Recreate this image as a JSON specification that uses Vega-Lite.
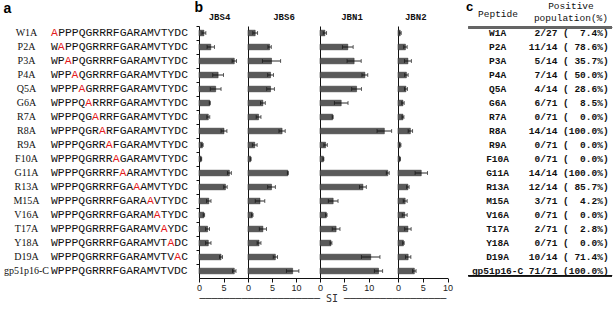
{
  "$schema": "https://vega.github.io/schema/vega-lite/v6.json",
  "padding": {"left": 3, "top": 0, "right": 0, "bottom": 0},
  "bounds": "flush",
  "spacing": 0,
  "config": {
    "view": {"stroke": null},
    "font": "Liberation Sans",
    "axis": {"grid": false},
    "title": {"font": "Liberation Mono", "fontSize": 9, "fontWeight": "bold", "baseline": "alphabetic", "offset": 4, "frame": "group", "color": "#111"}
  },
  "datasets": {
    "pep": [
      {"p": "W1A", "pre": "", "mut": "A", "pos": 0, "post": "PPPQGRRRFGARAMVTYDC", "cnt": "2/27", "pct": 7.4},
      {"p": "P2A", "pre": "W", "mut": "A", "pos": 1, "post": "PPQGRRRFGARAMVTYDC", "cnt": "11/14", "pct": 78.6},
      {"p": "P3A", "pre": "WP", "mut": "A", "pos": 2, "post": "PQGRRRFGARAMVTYDC", "cnt": "5/14", "pct": 35.7},
      {"p": "P4A", "pre": "WPP", "mut": "A", "pos": 3, "post": "QGRRRFGARAMVTYDC", "cnt": "7/14", "pct": 50.0},
      {"p": "Q5A", "pre": "WPPP", "mut": "A", "pos": 4, "post": "GRRRFGARAMVTYDC", "cnt": "4/14", "pct": 28.6},
      {"p": "G6A", "pre": "WPPPQ", "mut": "A", "pos": 5, "post": "RRRFGARAMVTYDC", "cnt": "6/71", "pct": 8.5},
      {"p": "R7A", "pre": "WPPPQG", "mut": "A", "pos": 6, "post": "RRFGARAMVTYDC", "cnt": "0/71", "pct": 0.0},
      {"p": "R8A", "pre": "WPPPQGR", "mut": "A", "pos": 7, "post": "RFGARAMVTYDC", "cnt": "14/14", "pct": 100.0},
      {"p": "R9A", "pre": "WPPPQGRR", "mut": "A", "pos": 8, "post": "FGARAMVTYDC", "cnt": "0/71", "pct": 0.0},
      {"p": "F10A", "pre": "WPPPQGRRR", "mut": "A", "pos": 9, "post": "GARAMVTYDC", "cnt": "0/71", "pct": 0.0},
      {"p": "G11A", "pre": "WPPPQGRRRF", "mut": "A", "pos": 10, "post": "ARAMVTYDC", "cnt": "14/14", "pct": 100.0},
      {"p": "R13A", "pre": "WPPPQGRRRFGA", "mut": "A", "pos": 12, "post": "AMVTYDC", "cnt": "12/14", "pct": 85.7},
      {"p": "M15A", "pre": "WPPPQGRRRFGARA", "mut": "A", "pos": 14, "post": "VTYDC", "cnt": "3/71", "pct": 4.2},
      {"p": "V16A", "pre": "WPPPQGRRRFGARAM", "mut": "A", "pos": 15, "post": "TYDC", "cnt": "0/71", "pct": 0.0},
      {"p": "T17A", "pre": "WPPPQGRRRFGARAMV", "mut": "A", "pos": 16, "post": "YDC", "cnt": "2/71", "pct": 2.8},
      {"p": "Y18A", "pre": "WPPPQGRRRFGARAMVT", "mut": "A", "pos": 17, "post": "DC", "cnt": "0/71", "pct": 0.0},
      {"p": "D19A", "pre": "WPPPQGRRRFGARAMVTV", "mut": "A", "pos": 18, "post": "C", "cnt": "10/14", "pct": 71.4},
      {"p": "gp51p16-C", "pre": "WPPPQGRRRFGARAMVTVDC", "mut": "", "pos": 20, "post": "", "cnt": "71/71", "pct": 100.0}
    ],
    "si": [
      {"c": "JBS4", "p": "W1A", "si": 1.0, "err": 0.4},
      {"c": "JBS4", "p": "P2A", "si": 2.4, "err": 0.75},
      {"c": "JBS4", "p": "P3A", "si": 7.2, "err": 0.45},
      {"c": "JBS4", "p": "P4A", "si": 3.9, "err": 1.1},
      {"c": "JBS4", "p": "Q5A", "si": 3.4, "err": 1.1},
      {"c": "JBS4", "p": "G6A", "si": 2.2, "err": 0.1},
      {"c": "JBS4", "p": "R7A", "si": 1.9, "err": 0.3},
      {"c": "JBS4", "p": "R8A", "si": 5.1, "err": 0.6},
      {"c": "JBS4", "p": "R9A", "si": 0.7, "err": 0.15},
      {"c": "JBS4", "p": "F10A", "si": 0.45, "err": 0.1},
      {"c": "JBS4", "p": "G11A", "si": 6.2, "err": 0.4},
      {"c": "JBS4", "p": "R13A", "si": 5.4, "err": 0.35},
      {"c": "JBS4", "p": "M15A", "si": 2.0, "err": 0.45},
      {"c": "JBS4", "p": "V16A", "si": 1.0, "err": 0.15},
      {"c": "JBS4", "p": "T17A", "si": 1.75, "err": 0.4},
      {"c": "JBS4", "p": "Y18A", "si": 1.9, "err": 0.55},
      {"c": "JBS4", "p": "D19A", "si": 4.5, "err": 0.3},
      {"c": "JBS4", "p": "gp51p16-C", "si": 7.2, "err": 0.35},
      {"c": "JBS6", "p": "W1A", "si": 1.5, "err": 0.5},
      {"c": "JBS6", "p": "P2A", "si": 4.5, "err": 0.35},
      {"c": "JBS6", "p": "P3A", "si": 4.9, "err": 1.9},
      {"c": "JBS6", "p": "P4A", "si": 4.7, "err": 0.6},
      {"c": "JBS6", "p": "Q5A", "si": 4.7, "err": 0.8},
      {"c": "JBS6", "p": "G6A", "si": 3.1, "err": 0.5},
      {"c": "JBS6", "p": "R7A", "si": 2.2, "err": 0.5},
      {"c": "JBS6", "p": "R8A", "si": 7.1, "err": 0.65},
      {"c": "JBS6", "p": "R9A", "si": 1.4, "err": 0.5},
      {"c": "JBS6", "p": "F10A", "si": 0.55, "err": 0.1},
      {"c": "JBS6", "p": "G11A", "si": 8.3, "err": 0.1},
      {"c": "JBS6", "p": "R13A", "si": 4.9, "err": 0.8},
      {"c": "JBS6", "p": "M15A", "si": 2.5, "err": 1.0},
      {"c": "JBS6", "p": "V16A", "si": 0.9, "err": 0.15},
      {"c": "JBS6", "p": "T17A", "si": 3.1, "err": 0.75},
      {"c": "JBS6", "p": "Y18A", "si": 2.3, "err": 0.4},
      {"c": "JBS6", "p": "D19A", "si": 5.7, "err": 0.45},
      {"c": "JBS6", "p": "gp51p16-C", "si": 9.3, "err": 1.3},
      {"c": "JBN1", "p": "W1A", "si": 1.0, "err": 0.35},
      {"c": "JBN1", "p": "P2A", "si": 5.7, "err": 1.1},
      {"c": "JBN1", "p": "P3A", "si": 7.0, "err": 1.45},
      {"c": "JBN1", "p": "P4A", "si": 9.2, "err": 0.6},
      {"c": "JBN1", "p": "Q5A", "si": 7.5, "err": 1.0},
      {"c": "JBN1", "p": "G6A", "si": 4.35, "err": 1.4},
      {"c": "JBN1", "p": "R7A", "si": 2.6, "err": 0.1},
      {"c": "JBN1", "p": "R8A", "si": 13.2, "err": 1.5},
      {"c": "JBN1", "p": "R9A", "si": 1.15, "err": 0.35},
      {"c": "JBN1", "p": "F10A", "si": 0.7, "err": 0.1},
      {"c": "JBN1", "p": "G11A", "si": 13.9, "err": 0.3},
      {"c": "JBN1", "p": "R13A", "si": 8.8, "err": 0.7},
      {"c": "JBN1", "p": "M15A", "si": 2.7, "err": 1.0},
      {"c": "JBN1", "p": "V16A", "si": 1.3, "err": 0.15},
      {"c": "JBN1", "p": "T17A", "si": 3.3, "err": 0.8},
      {"c": "JBN1", "p": "Y18A", "si": 2.25, "err": 0.2},
      {"c": "JBN1", "p": "D19A", "si": 10.4, "err": 1.9},
      {"c": "JBN1", "p": "gp51p16-C", "si": 12.0, "err": 0.85},
      {"c": "JBN2", "p": "W1A", "si": 0.45, "err": 0.2},
      {"c": "JBN2", "p": "P2A", "si": 1.5, "err": 0.35},
      {"c": "JBN2", "p": "P3A", "si": 2.0, "err": 0.7},
      {"c": "JBN2", "p": "P4A", "si": 1.7, "err": 0.35},
      {"c": "JBN2", "p": "Q5A", "si": 1.6, "err": 0.3},
      {"c": "JBN2", "p": "G6A", "si": 1.0, "err": 0.25},
      {"c": "JBN2", "p": "R7A", "si": 1.0, "err": 0.2},
      {"c": "JBN2", "p": "R8A", "si": 2.5, "err": 0.45},
      {"c": "JBN2", "p": "R9A", "si": 0.45, "err": 0.15},
      {"c": "JBN2", "p": "F10A", "si": 0.4, "err": 0.1},
      {"c": "JBN2", "p": "G11A", "si": 4.7, "err": 1.25},
      {"c": "JBN2", "p": "R13A", "si": 2.0, "err": 0.25},
      {"c": "JBN2", "p": "M15A", "si": 1.45, "err": 0.4},
      {"c": "JBN2", "p": "V16A", "si": 1.35, "err": 0.5},
      {"c": "JBN2", "p": "T17A", "si": 2.0, "err": 0.65},
      {"c": "JBN2", "p": "Y18A", "si": 1.1, "err": 0.15},
      {"c": "JBN2", "p": "D19A", "si": 2.05, "err": 0.55},
      {"c": "JBN2", "p": "gp51p16-C", "si": 3.3, "err": 0.35}
    ]
  },
  "hconcat": [
    {
      "width": 148, "height": 252,
      "data": {"name": "pep"},
      "encoding": {
        "y": {"field": "p", "type": "nominal",
          "scale": {"type": "band", "domain": ["W1A","P2A","P3A","P4A","Q5A","G6A","R7A","R8A","R9A","F10A","G11A","R13A","M15A","V16A","T17A","Y18A","D19A","gp51p16-C"], "paddingInner": 0, "paddingOuter": 0},
          "axis": {"domain": false, "ticks": false, "labelFont": "Liberation Serif", "labelFontSize": 10, "labelAlign": "center", "labelPadding": 25, "labelColor": "#111",
            "title": "a", "titleAngle": 0, "titleX": -48, "titleY": -14, "titleAlign": "left", "titleBaseline": "alphabetic", "titleFont": "Liberation Sans", "titleFontSize": 14, "titleFontWeight": "bold", "titleColor": "#000"}}
      },
      "layer": [
        {"mark": {"type": "text", "align": "left", "font": "Liberation Mono", "fontSize": 11.4, "color": "#111"},
         "encoding": {
           "x": {"datum": 0, "type": "quantitative", "scale": {"domain": [0, 21.6], "nice": false, "zero": false},
             "axis": {"orient": "top", "labels": false, "ticks": false, "domain": false, "grid": false,
               "title": "b", "titleX": 143, "titleY": -15, "titleAlign": "left", "titleBaseline": "alphabetic", "titleFont": "Liberation Sans", "titleFontSize": 14, "titleFontWeight": "bold", "titleColor": "#000"}},
           "text": {"field": "pre"}}},
        {"mark": {"type": "text", "align": "left", "font": "Liberation Mono", "fontSize": 11.4, "color": "#e41a1c"},
         "encoding": {"x": {"field": "pos", "type": "quantitative"}, "text": {"field": "mut"}}},
        {"mark": {"type": "text", "align": "right", "font": "Liberation Mono", "fontSize": 11.4, "color": "#111"},
         "encoding": {"x": {"datum": 20, "type": "quantitative"}, "text": {"field": "post"}}}
      ]
    },
    {
      "width": 49, "height": 252,
      "data": {"name": "si"},
      "transform": [{"filter": "datum.c === 'JBS4'"}],
      "title": {"text": "JBS4", "dx": -4},
      "encoding": {
        "y": {"field": "p", "type": "nominal",
          "scale": {"type": "band", "domain": ["W1A","P2A","P3A","P4A","Q5A","G6A","R7A","R8A","R9A","F10A","G11A","R13A","M15A","V16A","T17A","Y18A","D19A","gp51p16-C"], "paddingInner": 0, "paddingOuter": 0},
          "axis": {"labels": false, "ticks": true, "tickSize": 3, "bandPosition": 0, "tickColor": "#111", "domainColor": "#111", "title": null}},
        "x": {"field": "si", "type": "quantitative", "scale": {"domain": [0, 10], "nice": false},
          "axis": {"values": [0, 5], "domainColor": "#111", "tickColor": "#111", "tickSize": 4, "labelFont": "Liberation Sans", "labelFontSize": 9, "labelColor": "#222", "labelPadding": 1, "labelFlush": false,
            "title": "──────────────────── SI ─────────────────", "titleFont": "DejaVu Sans Mono", "titleFontSize": 10, "titleFontWeight": "normal", "titleColor": "#333", "titleX": 0, "titleY": 23, "titleAlign": "left", "titleBaseline": "alphabetic"}}
      },
      "layer": [
        {"mark": {"type": "bar", "height": {"band": 0.4}, "fill": "#5a5a5a", "stroke": "#222", "strokeWidth": 0.5}},
        {"mark": {"type": "errorbar", "color": "#111", "thickness": 0.9, "ticks": {"size": 4}}, "encoding": {"xError": {"field": "err"}}}
      ]
    },
    {
      "width": 72, "height": 252,
      "data": {"name": "si"},
      "transform": [{"filter": "datum.c === 'JBS6'"}],
      "title": {"text": "JBS6"},
      "encoding": {
        "y": {"field": "p", "type": "nominal",
          "scale": {"type": "band", "domain": ["W1A","P2A","P3A","P4A","Q5A","G6A","R7A","R8A","R9A","F10A","G11A","R13A","M15A","V16A","T17A","Y18A","D19A","gp51p16-C"], "paddingInner": 0, "paddingOuter": 0},
          "axis": {"labels": false, "ticks": false, "domainColor": "#111", "title": null}},
        "x": {"field": "si", "type": "quantitative", "scale": {"domain": [0, 15], "nice": false},
          "axis": {"values": [0, 5, 10], "domainColor": "#111", "tickColor": "#111", "tickSize": 4, "labelFont": "Liberation Sans", "labelFontSize": 9, "labelColor": "#222", "labelPadding": 1, "labelFlush": false, "title": null}}
      },
      "layer": [
        {"mark": {"type": "bar", "height": {"band": 0.4}, "fill": "#5a5a5a", "stroke": "#222", "strokeWidth": 0.5}},
        {"mark": {"type": "errorbar", "color": "#111", "thickness": 0.9, "ticks": {"size": 4}}, "encoding": {"xError": {"field": "err"}}}
      ]
    },
    {
      "width": 78, "height": 252,
      "data": {"name": "si"},
      "transform": [{"filter": "datum.c === 'JBN1'"}],
      "title": {"text": "JBN1", "dx": -7},
      "encoding": {
        "y": {"field": "p", "type": "nominal",
          "scale": {"type": "band", "domain": ["W1A","P2A","P3A","P4A","Q5A","G6A","R7A","R8A","R9A","F10A","G11A","R13A","M15A","V16A","T17A","Y18A","D19A","gp51p16-C"], "paddingInner": 0, "paddingOuter": 0},
          "axis": {"labels": false, "ticks": false, "domainColor": "#111", "title": null}},
        "x": {"field": "si", "type": "quantitative", "scale": {"domain": [0, 16], "nice": false},
          "axis": {"values": [0, 5, 10], "domainColor": "#111", "tickColor": "#111", "tickSize": 4, "labelFont": "Liberation Sans", "labelFontSize": 9, "labelColor": "#222", "labelPadding": 1, "labelFlush": false, "title": null}}
      },
      "layer": [
        {"mark": {"type": "bar", "height": {"band": 0.4}, "fill": "#5a5a5a", "stroke": "#222", "strokeWidth": 0.5}},
        {"mark": {"type": "errorbar", "color": "#111", "thickness": 0.9, "ticks": {"size": 4}}, "encoding": {"xError": {"field": "err"}}}
      ]
    },
    {
      "width": 49.5, "height": 252,
      "data": {"name": "si"},
      "transform": [{"filter": "datum.c === 'JBN2'"}],
      "title": {"text": "JBN2", "dx": -7},
      "encoding": {
        "y": {"field": "p", "type": "nominal",
          "scale": {"type": "band", "domain": ["W1A","P2A","P3A","P4A","Q5A","G6A","R7A","R8A","R9A","F10A","G11A","R13A","M15A","V16A","T17A","Y18A","D19A","gp51p16-C"], "paddingInner": 0, "paddingOuter": 0},
          "axis": {"labels": false, "ticks": false, "domainColor": "#111", "title": null}},
        "x": {"field": "si", "type": "quantitative", "scale": {"domain": [0, 10], "nice": false},
          "axis": {"values": [0, 5, 10], "domainColor": "#111", "tickColor": "#111", "tickSize": 4, "labelFont": "Liberation Sans", "labelFontSize": 9, "labelColor": "#222", "labelPadding": 1, "labelFlush": false, "title": null}}
      },
      "layer": [
        {"mark": {"type": "bar", "height": {"band": 0.4}, "fill": "#5a5a5a", "stroke": "#222", "strokeWidth": 0.5}},
        {"mark": {"type": "errorbar", "color": "#111", "thickness": 0.9, "ticks": {"size": 4}}, "encoding": {"xError": {"field": "err"}}}
      ]
    },
    {
      "width": 172, "height": 252,
      "data": {"name": "pep"},
      "encoding": {
        "y": {"field": "p", "type": "nominal",
          "scale": {"type": "band", "domain": ["W1A","P2A","P3A","P4A","Q5A","G6A","R7A","R8A","R9A","F10A","G11A","R13A","M15A","V16A","T17A","Y18A","D19A","gp51p16-C"], "paddingInner": 0, "paddingOuter": 0},
          "axis": {"domain": false, "ticks": false, "labels": false,
            "title": "c", "titleAngle": 0, "titleX": 17.5, "titleY": -16, "titleAlign": "left", "titleBaseline": "alphabetic", "titleFont": "Liberation Sans", "titleFontSize": 13, "titleFontWeight": "bold", "titleColor": "#000"}}
      },
      "layer": [
        {"mark": {"type": "rule", "stroke": "#666", "strokeWidth": 1.5},
         "encoding": {
           "x": {"datum": -10.6, "type": "quantitative", "scale": {"domain": [-14.2, 16], "nice": false, "zero": false},
             "axis": {"orient": "top", "values": [7.3], "labelExpr": "['Positive', 'population(%)']",
               "domain": false, "ticks": false, "grid": false, "labelFont": "Liberation Mono", "labelFontSize": 9.5, "labelColor": "#111", "labelAlign": "center", "labelBaseline": "middle", "labelLineHeight": 12, "labelPadding": 21, "labelFlush": false, "labelOverlap": false, "labelBound": false,
               "title": "Peptide", "titleX": 49.5, "titleY": -9.5, "titleAlign": "center", "titleBaseline": "alphabetic", "titleFont": "Liberation Mono", "titleFontSize": 9.5, "titleFontWeight": "normal", "titleColor": "#111"}},
           "x2": {"datum": 14.6},
           "y": {"datum": "W1A", "type": "nominal", "bandPosition": 0.1}}},
        {"mark": {"type": "rule", "stroke": "#111", "strokeWidth": 1},
         "encoding": {
           "x": {"datum": -10.6, "type": "quantitative"},
           "x2": {"datum": 14.6},
           "y": {"datum": "gp51p16-C", "type": "nominal", "bandPosition": 0.83}}},
        {"mark": {"type": "text", "align": "center", "font": "Liberation Mono", "fontSize": 9.5, "fontWeight": "bold", "color": "#111"},
         "encoding": {"x": {"datum": -5.5, "type": "quantitative"}, "text": {"field": "p"}}},
        {"mark": {"type": "text", "align": "right", "font": "Liberation Mono", "fontSize": 9.5, "fontWeight": "bold", "color": "#111"},
         "encoding": {"x": {"datum": 5, "type": "quantitative"}, "text": {"field": "cnt"}}},
        {"mark": {"type": "text", "align": "left", "font": "Liberation Mono", "fontSize": 9.5, "fontWeight": "bold", "color": "#111"},
         "encoding": {"x": {"datum": 6, "type": "quantitative"}, "text": {"value": "("}}},
        {"mark": {"type": "text", "align": "right", "font": "Liberation Mono", "fontSize": 9.5, "fontWeight": "bold", "color": "#111"},
         "encoding": {"x": {"datum": 12, "type": "quantitative"}, "text": {"field": "pct", "type": "quantitative", "format": ".1f"}}},
        {"mark": {"type": "text", "align": "left", "font": "Liberation Mono", "fontSize": 9.5, "fontWeight": "bold", "color": "#111"},
         "encoding": {"x": {"datum": 12, "type": "quantitative"}, "text": {"value": "%)"}}}
      ]
    }
  ]
}
